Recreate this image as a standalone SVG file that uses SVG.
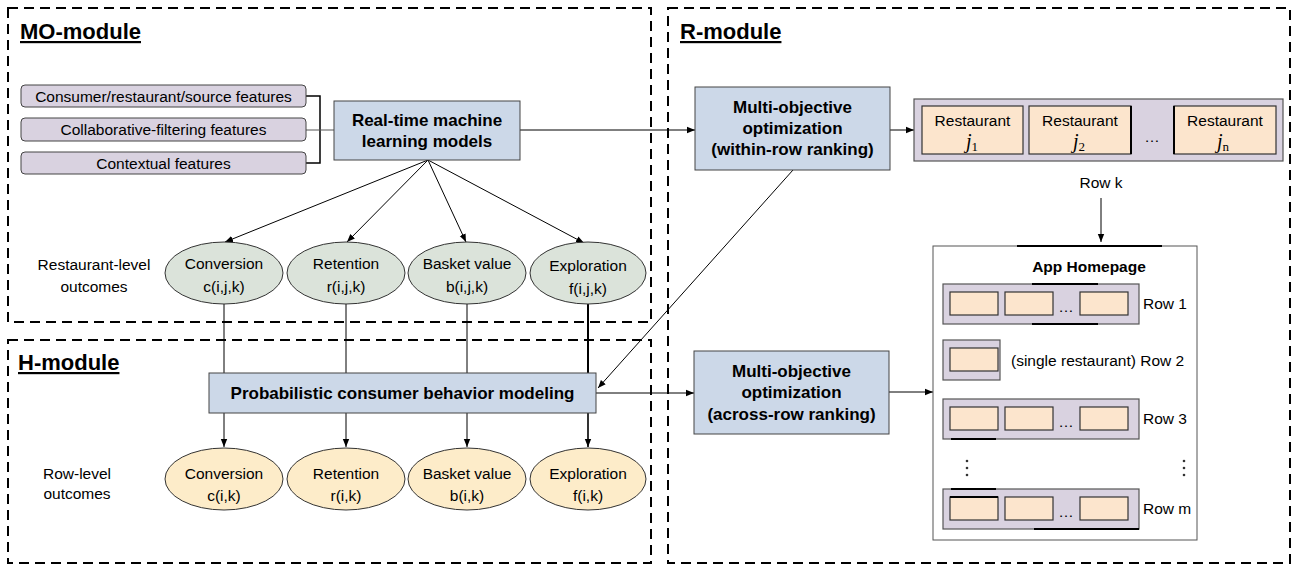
<svg xmlns="http://www.w3.org/2000/svg" width="1297" height="567" viewBox="0 0 1297 567">
  <defs>
    <marker id="arrow" markerUnits="userSpaceOnUse" markerWidth="9" markerHeight="8" refX="8" refY="4" orient="auto">
      <path d="M0,0.8 L8,4 L0,7.2 Z" fill="#000"/>
    </marker>
  </defs>
  <style>
    text { font-family: "Liberation Sans", Arial, sans-serif; fill: #000; }
    .title { font-size: 22px; font-weight: bold; text-decoration: underline; }
    .lbl { font-size: 15.5px; }
    .bold { font-size: 17px; font-weight: bold; }
    .math { font-family: "Liberation Serif", "Times New Roman", serif; font-style: italic; font-size: 20px; }
    .sub { font-family: "Liberation Serif", "Times New Roman", serif; font-style: normal; font-size: 13px; }
    .module { fill: none; stroke: #000; stroke-width: 2; stroke-dasharray: 10 6; }
    .feat { fill: #d9d2e0; stroke: #444; stroke-width: 1; }
    .proc { fill: #ccd8e8; stroke: #444; stroke-width: 1; }
    .rlev { fill: #dbe3da; stroke: #333; stroke-width: 1; }
    .rowlev { fill: #fdecc9; stroke: #333; stroke-width: 1; }
    .rowbox { fill: #d9d2e0; stroke: #555; stroke-width: 1.2; }
    .cell { fill: #fce5cd; stroke: #333; stroke-width: 1.2; }
    .edge { fill: none; stroke: #000; stroke-width: 1; }
    .dark { stroke: #000; stroke-width: 2; }
  </style>

  <!-- module frames -->
  <g id="modules">
    <rect class="module" x="8" y="8" width="643" height="314"/>
    <rect class="module" x="8" y="340" width="643" height="223"/>
    <rect class="module" x="668" y="8" width="622" height="555"/>
    <text class="title" x="20" y="39">MO-module</text>
    <text class="title" x="18" y="370">H-module</text>
    <text class="title" x="680" y="39">R-module</text>
  </g>

  <!-- connectors -->
  <g id="connectors">
    <!-- feature bracket into the model box -->
    <path d="M306,96 H320 V163 H306" fill="none" stroke="#000" stroke-width="1.5"/>
    <line x1="306" y1="130" x2="334" y2="130" stroke="#555" stroke-width="1"/>
    <!-- models to within-row optimization -->
    <line class="edge" x1="520" y1="130" x2="695" y2="130" marker-end="url(#arrow)"/>
    <!-- models to restaurant-level outcomes -->
    <line class="edge" x1="428" y1="160" x2="225" y2="242" marker-end="url(#arrow)"/>
    <line class="edge" x1="428" y1="160" x2="347" y2="242" marker-end="url(#arrow)"/>
    <line class="edge" x1="428" y1="160" x2="466" y2="242" marker-end="url(#arrow)"/>
    <line class="edge" x1="428" y1="160" x2="584" y2="243" marker-end="url(#arrow)"/>
    <!-- restaurant-level outcomes into behavior model -->
    <line class="edge" x1="224" y1="304" x2="224" y2="373"/>
    <line class="edge" x1="346" y1="304" x2="346" y2="373"/>
    <line class="edge" x1="467" y1="304" x2="467" y2="373"/>
    <line x1="588" y1="304" x2="588" y2="373" stroke="#000" stroke-width="2"/>
    <!-- behavior model to row-level outcomes -->
    <line class="edge" x1="224" y1="413" x2="224" y2="447" marker-end="url(#arrow)"/>
    <line class="edge" x1="346" y1="413" x2="346" y2="447" marker-end="url(#arrow)"/>
    <line class="edge" x1="467" y1="413" x2="467" y2="447" marker-end="url(#arrow)"/>
    <line x1="588" y1="413" x2="588" y2="447" stroke="#000" stroke-width="1.6" marker-end="url(#arrow)"/>
    <!-- within-row optimization feeds behavior model -->
    <line class="edge" x1="793" y1="170" x2="598" y2="388" marker-end="url(#arrow)"/>
    <!-- behavior model to across-row optimization -->
    <line class="edge" x1="596" y1="393" x2="694" y2="393" marker-end="url(#arrow)"/>
    <!-- within-row optimization to row k -->
    <line class="edge" x1="890" y1="130" x2="914" y2="130" marker-end="url(#arrow)"/>
    <!-- row k to homepage -->
    <line class="edge" x1="1101" y1="198" x2="1101" y2="242" marker-end="url(#arrow)"/>
    <!-- across-row optimization to homepage -->
    <line class="edge" x1="889" y1="392" x2="933" y2="392" marker-end="url(#arrow)"/>
  </g>

  <!-- feature inputs -->
  <g id="feat-source">
    <rect class="feat" x="21" y="85" width="285" height="22" rx="4"/>
    <text class="lbl" x="163.5" y="101.5" text-anchor="middle">Consumer/restaurant/source features</text>
  </g>
  <g id="feat-cf">
    <rect class="feat" x="21" y="118" width="285" height="23" rx="4"/>
    <text class="lbl" x="163.5" y="135" text-anchor="middle">Collaborative-filtering features</text>
  </g>
  <g id="feat-context">
    <rect class="feat" x="21" y="152" width="285" height="22" rx="4"/>
    <text class="lbl" x="163.5" y="168.5" text-anchor="middle">Contextual features</text>
  </g>

  <!-- real-time models -->
  <g id="rt-models">
    <rect class="proc" x="334" y="101" width="186" height="59"/>
    <text class="bold" x="427" y="126" text-anchor="middle">Real-time machine</text>
    <text class="bold" x="427" y="147" text-anchor="middle">learning models</text>
  </g>

  <!-- restaurant-level outcomes -->
  <g id="restaurant-level-label">
    <text class="lbl" x="94" y="270" text-anchor="middle">Restaurant-level</text>
    <text class="lbl" x="94" y="292" text-anchor="middle">outcomes</text>
  </g>
  <g id="rl-conversion">
    <ellipse class="rlev" cx="224" cy="273" rx="59" ry="31"/>
    <text class="lbl" x="224" y="269" text-anchor="middle">Conversion</text>
    <text class="lbl" x="224" y="292" text-anchor="middle">c(i,j,k)</text>
  </g>
  <g id="rl-retention">
    <ellipse class="rlev" cx="346" cy="273" rx="59" ry="31"/>
    <text class="lbl" x="346" y="269" text-anchor="middle">Retention</text>
    <text class="lbl" x="346" y="292" text-anchor="middle">r(i,j,k)</text>
  </g>
  <g id="rl-basket">
    <ellipse class="rlev" cx="467" cy="273" rx="59" ry="31"/>
    <text class="lbl" x="467" y="269" text-anchor="middle">Basket value</text>
    <text class="lbl" x="467" y="292" text-anchor="middle">b(i,j,k)</text>
  </g>
  <g id="rl-exploration">
    <ellipse class="rlev" cx="588" cy="273" rx="58" ry="31"/>
    <text class="lbl" x="588" y="271" text-anchor="middle">Exploration</text>
    <text class="lbl" x="588" y="294" text-anchor="middle">f(i,j,k)</text>
  </g>

  <!-- behavior model -->
  <g id="behavior-model">
    <rect class="proc" x="209" y="373" width="387" height="40"/>
    <text class="bold" x="402.5" y="399" text-anchor="middle">Probabilistic consumer behavior modeling</text>
  </g>

  <!-- row-level outcomes -->
  <g id="row-level-label">
    <text class="lbl" x="77" y="479" text-anchor="middle">Row-level</text>
    <text class="lbl" x="77" y="499" text-anchor="middle">outcomes</text>
  </g>
  <g id="row-conversion">
    <ellipse class="rowlev" cx="224" cy="479" rx="59" ry="31"/>
    <text class="lbl" x="224" y="479" text-anchor="middle">Conversion</text>
    <text class="lbl" x="224" y="501" text-anchor="middle">c(i,k)</text>
  </g>
  <g id="row-retention">
    <ellipse class="rowlev" cx="346" cy="479" rx="59" ry="31"/>
    <text class="lbl" x="346" y="479" text-anchor="middle">Retention</text>
    <text class="lbl" x="346" y="501" text-anchor="middle">r(i,k)</text>
  </g>
  <g id="row-basket">
    <ellipse class="rowlev" cx="467" cy="479" rx="59" ry="31"/>
    <text class="lbl" x="467" y="479" text-anchor="middle">Basket value</text>
    <text class="lbl" x="467" y="501" text-anchor="middle">b(i,k)</text>
  </g>
  <g id="row-exploration">
    <ellipse class="rowlev" cx="588" cy="479" rx="58" ry="31"/>
    <text class="lbl" x="588" y="479" text-anchor="middle">Exploration</text>
    <text class="lbl" x="588" y="501" text-anchor="middle">f(i,k)</text>
  </g>

  <!-- within-row optimization -->
  <g id="opt-within">
    <rect class="proc" x="695" y="87" width="195" height="83"/>
    <text class="bold" x="792.5" y="113" text-anchor="middle">Multi-objective</text>
    <text class="bold" x="792.5" y="134" text-anchor="middle">optimization</text>
    <text class="bold" x="792.5" y="155" text-anchor="middle">(within-row ranking)</text>
  </g>

  <!-- row k -->
  <g id="row-k">
    <rect class="rowbox" x="914" y="99" width="369" height="62"/>
    <rect class="cell" x="922" y="106" width="101" height="48"/>
    <rect class="cell" x="1029" y="106" width="102" height="48"/>
    <rect class="cell" x="1174" y="106" width="102" height="48"/>
    <line class="dark" x1="1131" y1="106" x2="1131" y2="154"/>
    <line class="dark" x1="1174" y1="106" x2="1174" y2="154"/>
    <text class="lbl" x="972.5" y="126" text-anchor="middle">Restaurant</text>
    <text class="lbl" x="1080" y="126" text-anchor="middle">Restaurant</text>
    <text class="lbl" x="1225" y="126" text-anchor="middle">Restaurant</text>
    <text class="math" x="966" y="148">j<tspan class="sub" dy="3">1</tspan></text>
    <text class="math" x="1073" y="148">j<tspan class="sub" dy="3">2</tspan></text>
    <text class="math" x="1217" y="148">j<tspan class="sub" dy="3">n</tspan></text>
    <text class="lbl" x="1152" y="142" text-anchor="middle">…</text>
    <text class="lbl" x="1101" y="188" text-anchor="middle">Row k</text>
  </g>

  <!-- across-row optimization -->
  <g id="opt-across">
    <rect class="proc" x="694" y="351" width="195" height="83"/>
    <text class="bold" x="791.5" y="377" text-anchor="middle">Multi-objective</text>
    <text class="bold" x="791.5" y="398" text-anchor="middle">optimization</text>
    <text class="bold" x="791.5" y="420" text-anchor="middle">(across-row ranking)</text>
  </g>

  <!-- app homepage -->
  <g id="homepage">
    <rect x="933" y="246" width="264" height="294" fill="#fff" stroke="#555" stroke-width="1"/>
    <line class="dark" x1="1017" y1="246" x2="1162" y2="246"/>
    <text x="1089" y="272" text-anchor="middle" font-size="15.5" font-weight="bold">App Homepage</text>

    <!-- row 1 -->
    <rect class="rowbox" x="943" y="284" width="196" height="40"/>
    <line class="dark" x1="1032" y1="284" x2="1098" y2="284"/>
    <line class="dark" x1="1032" y1="324" x2="1098" y2="324"/>
    <rect class="cell" x="950" y="292" width="48" height="23"/>
    <rect class="cell" x="1005" y="292" width="48" height="23"/>
    <rect class="cell" x="1080" y="292" width="48" height="23"/>
    <text class="lbl" x="1066" y="312" text-anchor="middle" font-size="12">…</text>
    <text class="lbl" x="1143" y="309">Row 1</text>

    <!-- row 2 -->
    <rect class="rowbox" x="943" y="340" width="57" height="40"/>
    <rect class="cell" x="950" y="348" width="48" height="23"/>
    <text class="lbl" x="1011" y="366">(single restaurant) Row 2</text>

    <!-- row 3 -->
    <rect class="rowbox" x="943" y="399" width="196" height="40"/>
    <line class="dark" x1="951" y1="439" x2="996" y2="439"/>
    <rect class="cell" x="950" y="407" width="48" height="23"/>
    <rect class="cell" x="1005" y="407" width="48" height="23"/>
    <rect class="cell" x="1080" y="407" width="48" height="23"/>
    <text class="lbl" x="1066" y="427" text-anchor="middle" font-size="12">…</text>
    <text class="lbl" x="1143" y="424">Row 3</text>

    <!-- vertical ellipsis -->
    <g fill="#333">
      <circle cx="967" cy="461" r="1.3"/>
      <circle cx="967" cy="468" r="1.3"/>
      <circle cx="967" cy="475" r="1.3"/>
      <circle cx="1184" cy="461" r="1.3"/>
      <circle cx="1184" cy="468" r="1.3"/>
      <circle cx="1184" cy="475" r="1.3"/>
    </g>

    <!-- row m -->
    <rect class="rowbox" x="943" y="489" width="196" height="40"/>
    <line class="dark" x1="951" y1="489" x2="996" y2="489"/>
    <line class="dark" x1="1034" y1="529" x2="1139" y2="529"/>
    <rect class="cell" x="950" y="497" width="48" height="23"/>
    <line class="dark" x1="950" y1="497" x2="998" y2="497"/>
    <rect class="cell" x="1005" y="497" width="48" height="23"/>
    <rect class="cell" x="1080" y="497" width="48" height="23"/>
    <text class="lbl" x="1066" y="517" text-anchor="middle" font-size="12">…</text>
    <text class="lbl" x="1143" y="514">Row m</text>
  </g>
</svg>
